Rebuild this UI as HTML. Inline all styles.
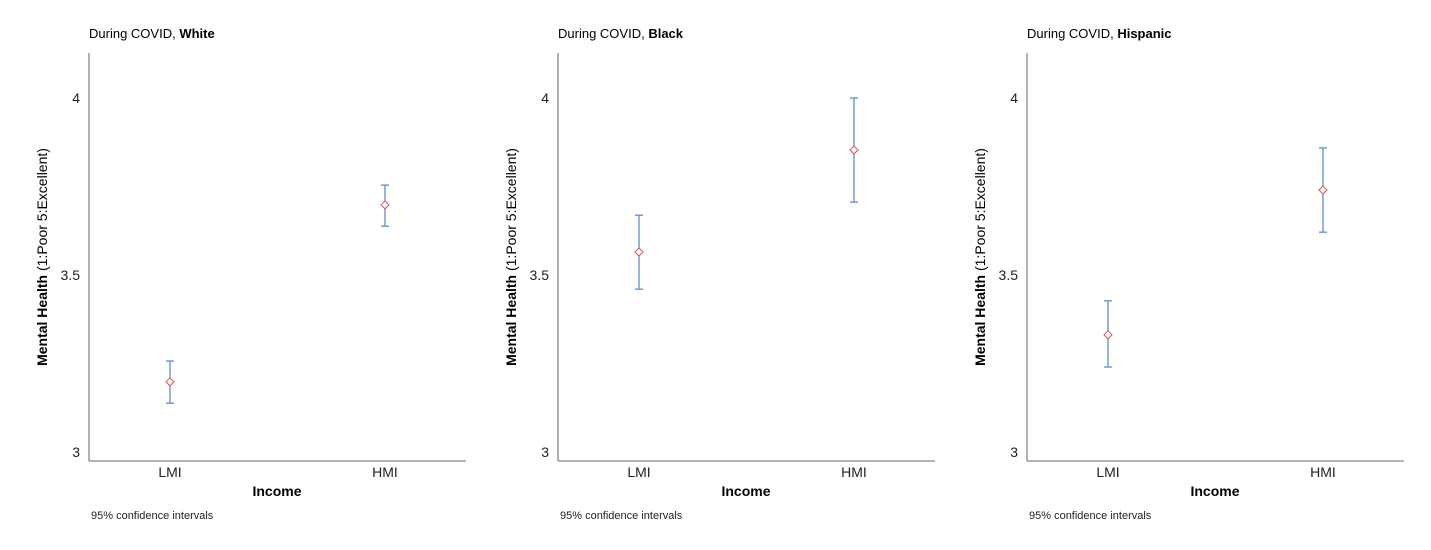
<!DOCTYPE html>
<html><head><meta charset="utf-8"><style>
html,body{margin:0;padding:0;background:#fff;}
svg{display:block;font-family:"Liberation Sans",Arial,sans-serif;}
</style></head><body>
<svg id="chart" width="1431" height="550" viewBox="0 0 1431 550"></svg>
<script>
const panelTitles = ["White", "Black", "Hispanic"];
const categories = ["LMI", "HMI"];
const meanValues = [[3.198, 3.698], [3.565, 3.853], [3.331, 3.740]];
const lowerCI = [[3.138, 3.638], [3.460, 3.706], [3.240, 3.621]];
const upperCI = [[3.257, 3.754], [3.669, 4.000], [3.427, 3.859]];
const yTicks = [3, 3.5, 4];
const yTickLabels = ["3", "3.5", "4"];

const NS = "http://www.w3.org/2000/svg";
const svg = document.getElementById("chart");
function mk(tag, attrs, parent) {
  const e = document.createElementNS(NS, tag);
  for (const k in attrs) e.setAttribute(k, attrs[k]);
  (parent || svg).appendChild(e);
  return e;
}
const pxPerUnit = 354;
function yScale(v) { return 452 - (v - 3) * pxPerUnit; }
const panelOffset = 469;

panelTitles.forEach((t, p) => {
  const ox = 89 + p * panelOffset;
  const g = mk("g", {});
  
  
  function xScale(i) { return ox + 81 + i * 215; }

  const title = mk("text", {x: ox, y: 38, "font-size": 13, fill: "#000"}, g);
  
  
  title.appendChild(document.createTextNode("During COVID, "));
  const b = mk("tspan", {"font-weight": "bold"}, title);
  b.textContent = t;

  const ya = mk("line", {x1: ox, y1: 53, x2: ox, y2: 461, stroke: "#888", "stroke-width": 1.3}, g);
  
  
  const xa = mk("line", {x1: ox, y1: 461, x2: ox + 377, y2: 461, stroke: "#888", "stroke-width": 1.3}, g);
  
  

  yTicks.forEach((v, i) => {
    const tl = mk("text", {x: ox - 9, y: yScale(v) + 5, "font-size": 14, "text-anchor": "end", fill: "#222"}, g);
    
    
    tl.textContent = yTickLabels[i];
  });

  const yl = mk("text", {x: 0, y: 0, "font-size": 14, "text-anchor": "middle", fill: "#000",
    transform: "translate(" + (ox - 42) + ",257) rotate(-90)"}, g);
  
  
  const yb = mk("tspan", {"font-weight": "bold"}, yl);
  yb.textContent = "Mental Health";
  yl.appendChild(document.createTextNode(" (1:Poor 5:Excellent)"));

  categories.forEach((c, i) => {
    const cx = xScale(i);
    const xl = mk("text", {x: cx, y: 477, "font-size": 14, "text-anchor": "middle", fill: "#222"}, g);
    
    
    xl.textContent = c;

    const yLo = yScale(lowerCI[p][i]), yHi = yScale(upperCI[p][i]), yM = yScale(meanValues[p][i]);
    const eb = mk("g", {stroke: "#5b8fd0", "stroke-width": 1.3}, g);
    
    
    mk("line", {x1: cx, y1: yHi, x2: cx, y2: yLo}, eb);
    mk("line", {x1: cx - 4, y1: yHi, x2: cx + 4, y2: yHi}, eb);
    mk("line", {x1: cx - 4, y1: yLo, x2: cx + 4, y2: yLo}, eb);
    const d = mk("polygon", {points: (cx-4)+","+yM+" "+cx+","+(yM-4)+" "+(cx+4)+","+yM+" "+cx+","+(yM+4),
      fill: "#fff", stroke: "#d9534f", "stroke-width": 1}, g);
    
    
  });

  const xt = mk("text", {x: ox + 188, y: 496, "font-size": 14, "font-weight": "bold", "text-anchor": "middle", fill: "#000"}, g);
  
  
  xt.textContent = "Income";

  const fn = mk("text", {x: ox + 2, y: 519, "font-size": 11, fill: "#222"}, g);
  
  
  fn.textContent = "95% confidence intervals";
});
</script>
</body></html>
